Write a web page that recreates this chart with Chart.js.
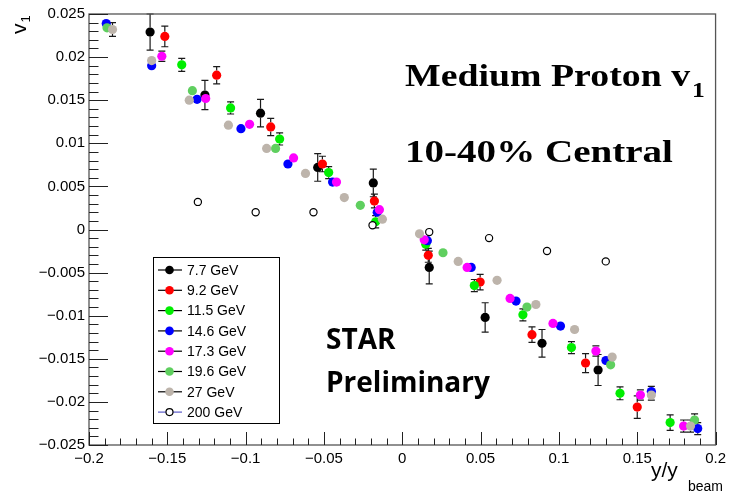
<!DOCTYPE html>
<html>
<head>
<meta charset="utf-8">
<script src="https://cdn.jsdelivr.net/npm/chart.js@4/dist/chart.umd.min.js"></script>
<style>
  html, body { margin: 0; padding: 0; background: #fff; }
  #wrap { width: 731px; height: 501px; }
</style>
</head>
<body>
<div id="wrap"><canvas id="v1Chart" width="731" height="501"></canvas></div>
<script>
// energies (legend labels)
const labels = ['7.7 GeV', '9.2 GeV', '11.5 GeV', '14.6 GeV', '17.3 GeV', '19.6 GeV', '27 GeV', '200 GeV'];
const colors = ['#000000', '#ff0000', '#00ee00', '#0000ff', '#ff00ff', '#5fcf5f', '#bdb4ab', '#ffffff'];

// x = y/y_beam, y = v1, e = stat. error
const x77  = [-0.161, -0.126, -0.0905, -0.054, -0.0185, 0.0172, 0.0529, 0.0892, 0.125];
const y77  = [0.0229, 0.0156, 0.0135, 0.0072, 0.0054, -0.0044, -0.0102, -0.0132, -0.0163];
const e77  = [0.0021, 0.0017, 0.0016, 0.0016, 0.0016, 0.0019, 0.0017, 0.0016, 0.0018];

const x92  = [-0.1516, -0.1185, -0.084, -0.051, -0.0178, 0.0166, 0.0497, 0.0828, 0.117, 0.150];
const y92  = [0.0224, 0.0179, 0.0119, 0.0076, 0.0033, -0.0030, -0.0061, -0.0122, -0.0155, -0.0206];
const e92  = [0.0012, 0.0010, 0.0010, 0.0009, 0.0008, 0.0008, 0.0009, 0.0009, 0.0011, 0.0013];

const x115 = [-0.1408, -0.1096, -0.0783, -0.047, -0.017, 0.015, 0.046, 0.077, 0.108, 0.139, 0.171];
const y115 = [0.0191, 0.0141, 0.0105, 0.0066, 0.0009, -0.0017, -0.0065, -0.0099, -0.0137, -0.0190, -0.0224];
const e115 = [0.00075, 0.0007, 0.0007, 0.0007, 0.0007, 0.0007, 0.0007, 0.0007, 0.0007, 0.00075, 0.0009];

const x146 = [-0.189, -0.160, -0.131, -0.103, -0.073, -0.0445, -0.016, 0.016, 0.044, 0.0726, 0.101, 0.130, 0.159, 0.1886];
const y146 = [0.0239, 0.0190, 0.0151, 0.0117, 0.0076, 0.0055, 0.0020, -0.0013, -0.0044, -0.0083, -0.0112, -0.0152, -0.0188, -0.0231];
const e146 = [0.0004, 0.0004, 0.0004, 0.0004, 0.0004, 0.0004, 0.0004, 0.0004, 0.0004, 0.0004, 0.0004, 0.0004, 0.0006, 0.0007];

const x173 = [-0.1535, -0.1255, -0.0975, -0.0694, -0.042, -0.0146, 0.014, 0.0414, 0.0688, 0.0962, 0.1236, 0.152, 0.1796];
const y173 = [0.0201, 0.0152, 0.0122, 0.0083, 0.0055, 0.0023, -0.0012, -0.0044, -0.0080, -0.0109, -0.0141, -0.0192, -0.0228];
const e173 = [0.0006, 0.0005, 0.0005, 0.0005, 0.0005, 0.0005, 0.0005, 0.0005, 0.0005, 0.0005, 0.0006, 0.0006, 0.0007];

const x196 = [-0.1885, -0.134, -0.0809, -0.0268, 0.026, 0.0796, 0.133, 0.1866];
const y196 = [0.0234, 0.0161, 0.0094, 0.0028, -0.0027, -0.0090, -0.0157, -0.0221];
const e196 = [0.0004, 0.0004, 0.0004, 0.0004, 0.0004, 0.0004, 0.0004, 0.0007];

const x27  = [-0.185, -0.160, -0.136, -0.111, -0.0866, -0.0618, -0.037, -0.0127, 0.011, 0.0357, 0.0605, 0.0853, 0.110, 0.134, 0.159, 0.184];
const y27  = [0.0232, 0.0196, 0.0150, 0.0121, 0.0094, 0.0065, 0.0037, 0.0012, -0.0005, -0.0037, -0.0059, -0.0087, -0.0116, -0.0148, -0.0192, -0.0228];
const e27  = [0.0008, 0.0004, 0.0004, 0.0004, 0.0004, 0.0004, 0.0004, 0.0004, 0.0004, 0.0004, 0.0004, 0.0004, 0.0004, 0.0004, 0.0006, 0.0007];

const x200 = [-0.1305, -0.0936, -0.0567, -0.019, 0.0172, 0.0554, 0.0924, 0.1299];
const y200 = [0.0032, 0.0020, 0.0020, 0.0005, -0.0003, -0.0010, -0.0025, -0.0037];
const e200 = [0, 0, 0, 0, 0, 0, 0, 0];

const xs = [x77, x92, x115, x146, x173, x196, x27, x200];
const ys = [y77, y92, y115, y146, y173, y196, y27, y200];
const es = [e77, e92, e115, e146, e173, e196, e27, e200];

// axis ranges / tick steps
const xMin = -0.2, xMax = 0.2, xMajor = 0.05, xMinor = 0.01;
const yMin = -0.025, yMax = 0.025, yMajor = 0.005, yMinor = 0.001;

function fmt(v) {
    const r = Math.round(v * 1000) / 1000;
    if (r === 0) return '0';
    const s = String(Math.abs(r));
    return (r < 0 ? '\u2212' : '') + s;
}

const datasets = labels.map(function(lab, k) {
    const open = (k === labels.length - 1);
    return {
        label: lab,
        data: xs[k].map(function(x, i) { return { x: x, y: ys[k][i] }; }),
        errors: es[k],
        backgroundColor: colors[k],
        borderColor: open ? '#000000' : colors[k],
        pointRadius: open ? 3.6 : 4.6,
        pointBorderWidth: open ? 1.2 : 0,
        pointHoverRadius: 0,
        showLine: false,
        order: labels.length - k
    };
});

// error bars (ROOT style: hidden inside the marker, caps at the ends)
const errorBars = {
    id: 'errorBars',
    beforeDatasetsDraw(chart) {
        const ctx = chart.ctx, xs_ = chart.scales.x, ys_ = chart.scales.y;
        ctx.save();
        ctx.strokeStyle = '#1a1a1a';
        ctx.lineWidth = 1.2;
        chart.data.datasets.forEach(function(ds) {
            const r = ds.pointRadius;
            ds.data.forEach(function(p, i) {
                const e = ds.errors[i];
                if (!e) return;
                const px = xs_.getPixelForValue(p.x);
                const py = ys_.getPixelForValue(p.y);
                const top = ys_.getPixelForValue(p.y + e);
                const bot = ys_.getPixelForValue(p.y - e);
                if (py - top <= r + 0.5) return;
                ctx.beginPath();
                ctx.moveTo(px, top); ctx.lineTo(px, py - r);
                ctx.moveTo(px, py + r); ctx.lineTo(px, bot);
                ctx.moveTo(px - 3.5, top); ctx.lineTo(px + 3.5, top);
                ctx.moveTo(px - 3.5, bot); ctx.lineTo(px + 3.5, bot);
                ctx.stroke();
            });
        });
        ctx.restore();
    }
};

// text stretched horizontally like the reference
function wideText(ctx, txt, x, y, sx) {
    ctx.save();
    ctx.translate(x, y);
    ctx.scale(sx, 1);
    ctx.fillText(txt, 0, 0);
    const w = ctx.measureText(txt).width * sx;
    ctx.restore();
    return w;
}

// ROOT-like frame, inward ticks, legend box, labels
const rootFrame = {
    id: 'rootFrame',
    afterDraw(chart) {
        const ctx = chart.ctx, a = chart.chartArea;
        const sx = chart.scales.x, sy = chart.scales.y;
        ctx.save();

        // frame
        ctx.strokeStyle = '#555';
        ctx.lineWidth = 1.3;
        ctx.strokeRect(a.left, a.top, a.right - a.left, a.bottom - a.top);

        // ticks
        ctx.strokeStyle = '#222';
        ctx.lineWidth = 1;
        ctx.beginPath();
        const nx = Math.round((xMax - xMin) / xMinor);
        for (let i = 0; i <= nx; i++) {
            const v = xMin + i * xMinor;
            const px = Math.round(sx.getPixelForValue(v)) + 0.5;
            const len = (i % Math.round(xMajor / xMinor) === 0) ? 13 : 6.5;
            ctx.moveTo(px, a.bottom); ctx.lineTo(px, a.bottom - len);
        }
        const ny = Math.round((yMax - yMin) / yMinor);
        for (let i = 0; i <= ny; i++) {
            const v = yMin + i * yMinor;
            const py = Math.round(sy.getPixelForValue(v)) + 0.5;
            const len = (i % Math.round(yMajor / yMinor) === 0) ? 19 : 9.5;
            ctx.moveTo(a.left, py); ctx.lineTo(a.left + len, py);
        }
        ctx.stroke();

        // axis titles
        ctx.fillStyle = '#000';
        ctx.textBaseline = 'alphabetic';
        ctx.textAlign = 'left';
        ctx.save();
        ctx.translate(26, 34);
        ctx.rotate(-Math.PI / 2);
        ctx.font = '21px "Liberation Sans", Arial, sans-serif';
        ctx.fillText('v', 0, 0);
        const vw = ctx.measureText('v').width;
        ctx.font = '13px "Liberation Sans", Arial, sans-serif';
        ctx.fillText('1', vw + 1, 4);
        ctx.restore();

        ctx.font = '21px "Liberation Sans", Arial, sans-serif';
        ctx.fillText('y/y', 651, 477);
        ctx.font = '14px "Liberation Sans", Arial, sans-serif';
        ctx.fillText('beam', 688, 491);

        // big labels
        ctx.font = 'bold 31px "Liberation Serif", "Times New Roman", serif';
        const w = wideText(ctx, 'Medium Proton v', 405, 86, 1.22);
        ctx.font = 'bold 21px "Liberation Serif", "Times New Roman", serif';
        wideText(ctx, '1', 405 + w + 2, 97, 1.22);
        ctx.font = 'bold 31px "Liberation Serif", "Times New Roman", serif';
        wideText(ctx, '10-40% Central', 405, 162, 1.26);

        ctx.font = 'bold 28px "Open Sans", "Noto Sans", sans-serif';
        ctx.fillText('STAR', 326, 349);
        ctx.fillText('Preliminary', 326, 392);

        // legend
        const L = { left: 153, top: 257, right: 279, bottom: 423 };
        ctx.fillStyle = '#fff';
        ctx.fillRect(L.left, L.top, L.right - L.left, L.bottom - L.top);
        ctx.strokeStyle = '#000';
        ctx.lineWidth = 1;
        ctx.strokeRect(L.left + 0.5, L.top + 0.5, L.right - L.left, L.bottom - L.top);
        ctx.font = '14px "Liberation Sans", Arial, sans-serif';
        ctx.textBaseline = 'middle';
        chart.data.datasets.forEach(function(ds, k) {
            const cy = 270 + k * 20.3;
            const open = (k === labels.length - 1);
            ctx.strokeStyle = open ? '#5a5ac8' : '#000';
            ctx.lineWidth = 1.2;
            ctx.beginPath();
            ctx.moveTo(158, cy); ctx.lineTo(182, cy);
            ctx.stroke();
            ctx.beginPath();
            ctx.arc(169.5, cy, open ? 3.5 : 4.3, 0, Math.PI * 2);
            ctx.fillStyle = ds.backgroundColor;
            ctx.fill();
            if (open) { ctx.strokeStyle = '#000'; ctx.stroke(); }
            ctx.fillStyle = '#000';
            ctx.fillText(ds.label, 187, cy + 1);
        });

        ctx.restore();
    }
};

const tickFont = { family: '"Liberation Sans", Arial, sans-serif', size: 15 };

new Chart(document.getElementById('v1Chart'), {
    type: 'scatter',
    data: { datasets: datasets },
    options: {
        responsive: false,
        animation: false,
        events: [],
        layout: { padding: { top: 14, right: 10, left: 0, bottom: 0 } },
        plugins: { legend: { display: false }, tooltip: { enabled: false } },
        scales: {
            x: {
                type: 'linear', min: xMin, max: xMax,
                grid: { display: false, drawTicks: false },
                border: { display: false },
                ticks: { stepSize: xMajor, padding: 5, color: '#000', font: tickFont, maxRotation: 0, autoSkip: false,
                         callback: function(v) { return fmt(v); } },
                afterFit: function(s) { s.height = 56; }
            },
            y: {
                type: 'linear', min: yMin, max: yMax,
                grid: { display: false, drawTicks: false },
                border: { display: false },
                ticks: { stepSize: yMajor, padding: 4, color: '#000', font: tickFont, autoSkip: false,
                         callback: function(v) { return fmt(v); } },
                afterFit: function(s) { s.width = 89; }
            }
        }
    },
    plugins: [errorBars, rootFrame]
});
</script>
</body>
</html>
